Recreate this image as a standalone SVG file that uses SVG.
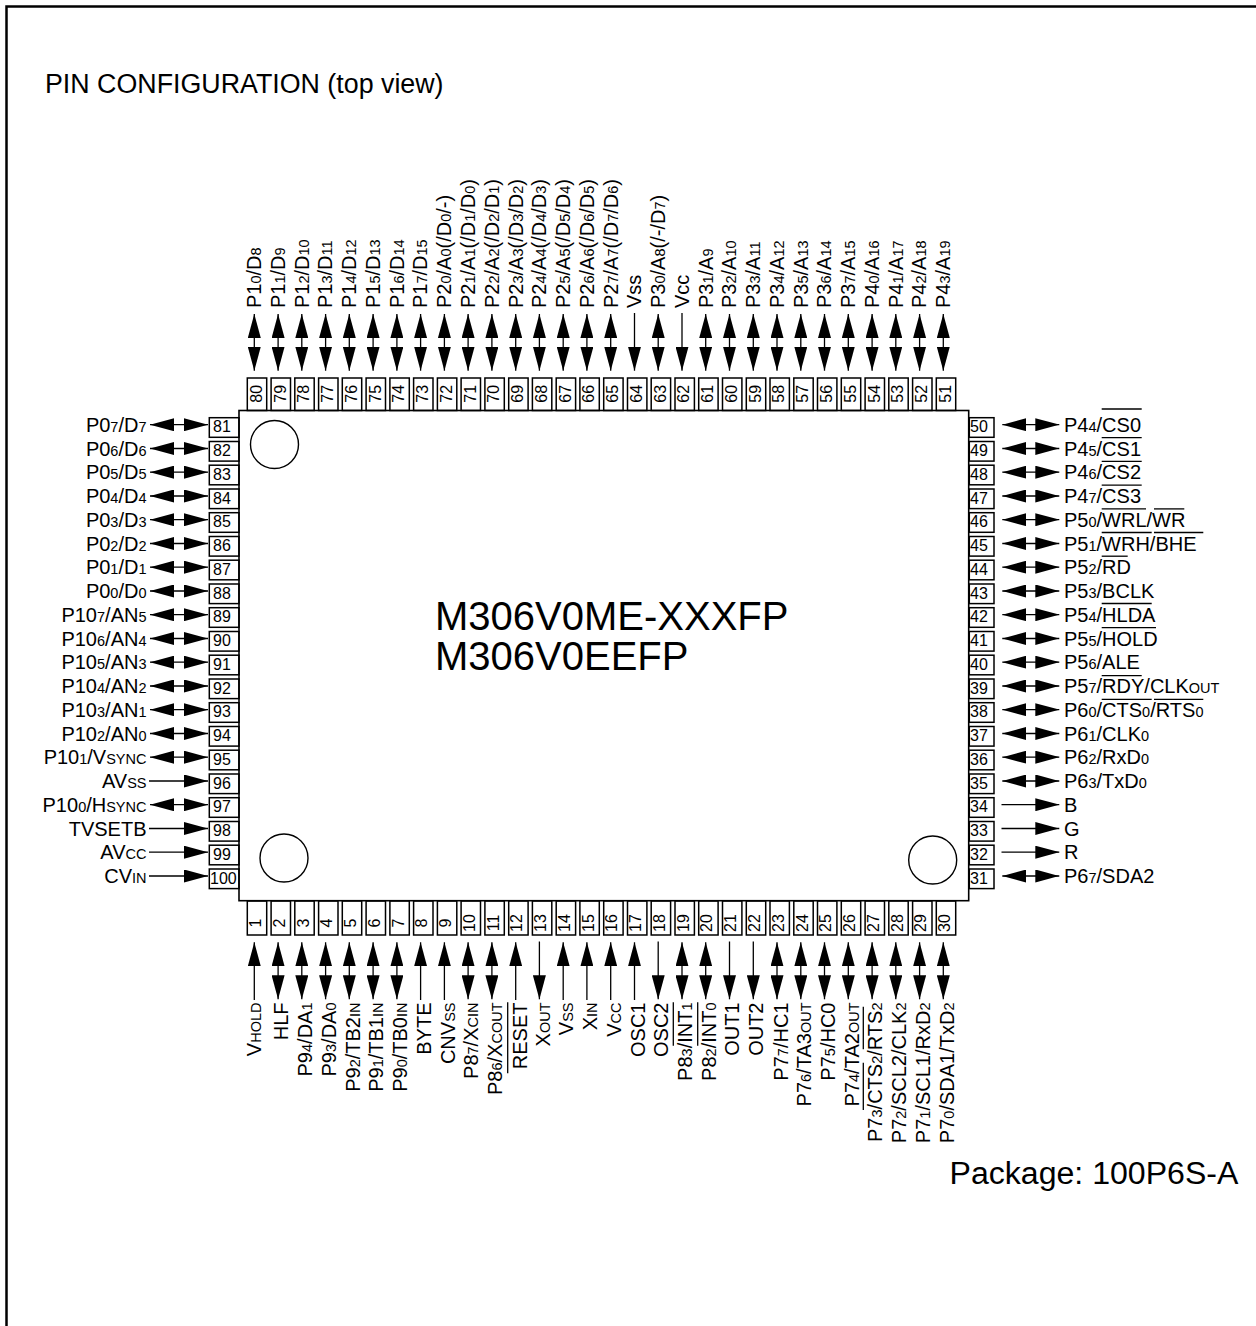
<svg xmlns="http://www.w3.org/2000/svg" width="1256" height="1326" viewBox="0 0 1256 1326">
<style>
text{font-family:"Liberation Sans",Arial,sans-serif;fill:#000}
.l{font-size:20px}
.s{font-size:14.5px}
.n{font-size:16px}
.ne{text-anchor:end}
.m{text-anchor:middle}
.box{fill:none;stroke:#000;stroke-width:1.5}
.ov{stroke:#000;stroke-width:1.3}
.c{stroke:#000;stroke-width:1.3;fill:none}
.bi{marker-start:url(#h);marker-end:url(#h)}
.one{marker-end:url(#h)}
</style>
<defs>
<marker id="h" markerUnits="userSpaceOnUse" markerWidth="24" markerHeight="13" refX="24" refY="6.5" orient="auto-start-reverse"><path d="M0 0L24 6.5L0 13Z" fill="#000"/></marker>
</defs>
<rect width="1256" height="1326" fill="#fff"/>
<path id="frame" d="M6.5 1326V6.5H1256" fill="none" stroke="#000" stroke-width="2.5"/>
<text id="title" x="45" y="93" font-size="26.8">PIN CONFIGURATION (top view)</text>
<text id="package" x="949.5" y="1184" font-size="32.1">Package: 100P6S-A</text>
<g id="chip">
<rect x="239" y="410.5" width="729.7" height="490.2" fill="#fff" stroke="#000" stroke-width="1.6"/>
<circle cx="274.5" cy="444.5" r="24" fill="none" stroke="#000" stroke-width="1.4"/>
<circle cx="284" cy="858" r="24" fill="none" stroke="#000" stroke-width="1.4"/>
<circle cx="932.7" cy="860" r="24" fill="none" stroke="#000" stroke-width="1.4"/>
<text x="435" y="630" font-size="40">M306V0ME-XXXFP</text>
<text x="435" y="670" font-size="40">M306V0EEFP</text>
</g>
<g id="connectors" class="c">
<line class="bi" x1="254.3" y1="314" x2="254.3" y2="370.7"/>
<line class="bi" x1="278.1" y1="314" x2="278.1" y2="370.7"/>
<line class="bi" x1="301.8" y1="314" x2="301.8" y2="370.7"/>
<line class="bi" x1="325.6" y1="314" x2="325.6" y2="370.7"/>
<line class="bi" x1="349.3" y1="314" x2="349.3" y2="370.7"/>
<line class="bi" x1="373.1" y1="314" x2="373.1" y2="370.7"/>
<line class="bi" x1="396.9" y1="314" x2="396.9" y2="370.7"/>
<line class="bi" x1="420.6" y1="314" x2="420.6" y2="370.7"/>
<line class="bi" x1="444.4" y1="314" x2="444.4" y2="370.7"/>
<line class="bi" x1="468.1" y1="314" x2="468.1" y2="370.7"/>
<line class="bi" x1="491.9" y1="314" x2="491.9" y2="370.7"/>
<line class="bi" x1="515.7" y1="314" x2="515.7" y2="370.7"/>
<line class="bi" x1="539.4" y1="314" x2="539.4" y2="370.7"/>
<line class="bi" x1="563.2" y1="314" x2="563.2" y2="370.7"/>
<line class="bi" x1="586.9" y1="314" x2="586.9" y2="370.7"/>
<line class="bi" x1="610.7" y1="314" x2="610.7" y2="370.7"/>
<line class="one" x1="634.5" y1="313" x2="634.5" y2="370.7"/>
<line class="bi" x1="658.2" y1="314" x2="658.2" y2="370.7"/>
<line class="one" x1="682" y1="313" x2="682" y2="370.7"/>
<line class="bi" x1="705.7" y1="314" x2="705.7" y2="370.7"/>
<line class="bi" x1="729.5" y1="314" x2="729.5" y2="370.7"/>
<line class="bi" x1="753.3" y1="314" x2="753.3" y2="370.7"/>
<line class="bi" x1="777" y1="314" x2="777" y2="370.7"/>
<line class="bi" x1="800.8" y1="314" x2="800.8" y2="370.7"/>
<line class="bi" x1="824.5" y1="314" x2="824.5" y2="370.7"/>
<line class="bi" x1="848.3" y1="314" x2="848.3" y2="370.7"/>
<line class="bi" x1="872.1" y1="314" x2="872.1" y2="370.7"/>
<line class="bi" x1="895.8" y1="314" x2="895.8" y2="370.7"/>
<line class="bi" x1="919.6" y1="314" x2="919.6" y2="370.7"/>
<line class="bi" x1="943.3" y1="314" x2="943.3" y2="370.7"/>
<line class="one" x1="254.3" y1="1000" x2="254.3" y2="942.3"/>
<line class="bi" x1="278.1" y1="942.3" x2="278.1" y2="999.3"/>
<line class="bi" x1="301.8" y1="942.3" x2="301.8" y2="999.3"/>
<line class="bi" x1="325.6" y1="942.3" x2="325.6" y2="999.3"/>
<line class="bi" x1="349.3" y1="942.3" x2="349.3" y2="999.3"/>
<line class="bi" x1="373.1" y1="942.3" x2="373.1" y2="999.3"/>
<line class="bi" x1="396.9" y1="942.3" x2="396.9" y2="999.3"/>
<line class="one" x1="420.6" y1="1000" x2="420.6" y2="942.3"/>
<line class="one" x1="444.4" y1="1000" x2="444.4" y2="942.3"/>
<line class="bi" x1="468.1" y1="942.3" x2="468.1" y2="999.3"/>
<line class="bi" x1="491.9" y1="942.3" x2="491.9" y2="999.3"/>
<line class="one" x1="515.7" y1="1000" x2="515.7" y2="942.3"/>
<line class="one" x1="539.4" y1="941.5" x2="539.4" y2="999.3"/>
<line class="one" x1="563.2" y1="1000" x2="563.2" y2="942.3"/>
<line class="one" x1="586.9" y1="1000" x2="586.9" y2="942.3"/>
<line class="one" x1="610.7" y1="1000" x2="610.7" y2="942.3"/>
<line class="one" x1="634.5" y1="1000" x2="634.5" y2="942.3"/>
<line class="one" x1="658.2" y1="941.5" x2="658.2" y2="999.3"/>
<line class="bi" x1="682" y1="942.3" x2="682" y2="999.3"/>
<line class="bi" x1="705.7" y1="942.3" x2="705.7" y2="999.3"/>
<line class="one" x1="729.5" y1="941.5" x2="729.5" y2="999.3"/>
<line class="one" x1="753.3" y1="941.5" x2="753.3" y2="999.3"/>
<line class="bi" x1="777" y1="942.3" x2="777" y2="999.3"/>
<line class="bi" x1="800.8" y1="942.3" x2="800.8" y2="999.3"/>
<line class="bi" x1="824.5" y1="942.3" x2="824.5" y2="999.3"/>
<line class="bi" x1="848.3" y1="942.3" x2="848.3" y2="999.3"/>
<line class="bi" x1="872.1" y1="942.3" x2="872.1" y2="999.3"/>
<line class="bi" x1="895.8" y1="942.3" x2="895.8" y2="999.3"/>
<line class="bi" x1="919.6" y1="942.3" x2="919.6" y2="999.3"/>
<line class="bi" x1="943.3" y1="942.3" x2="943.3" y2="999.3"/>
<line class="bi" x1="150" y1="424.7" x2="208" y2="424.7"/>
<line class="bi" x1="150" y1="448.5" x2="208" y2="448.5"/>
<line class="bi" x1="150" y1="472.2" x2="208" y2="472.2"/>
<line class="bi" x1="150" y1="496" x2="208" y2="496"/>
<line class="bi" x1="150" y1="519.7" x2="208" y2="519.7"/>
<line class="bi" x1="150" y1="543.5" x2="208" y2="543.5"/>
<line class="bi" x1="150" y1="567.2" x2="208" y2="567.2"/>
<line class="bi" x1="150" y1="591" x2="208" y2="591"/>
<line class="bi" x1="150" y1="614.7" x2="208" y2="614.7"/>
<line class="bi" x1="150" y1="638.5" x2="208" y2="638.5"/>
<line class="bi" x1="150" y1="662.2" x2="208" y2="662.2"/>
<line class="bi" x1="150" y1="686" x2="208" y2="686"/>
<line class="bi" x1="150" y1="709.7" x2="208" y2="709.7"/>
<line class="bi" x1="150" y1="733.5" x2="208" y2="733.5"/>
<line class="bi" x1="150" y1="757.2" x2="208" y2="757.2"/>
<line class="one" x1="149" y1="781" x2="208" y2="781"/>
<line class="bi" x1="150" y1="804.7" x2="208" y2="804.7"/>
<line class="one" x1="149" y1="828.5" x2="208" y2="828.5"/>
<line class="one" x1="149" y1="852.2" x2="208" y2="852.2"/>
<line class="one" x1="149" y1="876" x2="208" y2="876"/>
<line class="bi" x1="1002.3" y1="424.7" x2="1059.3" y2="424.7"/>
<line class="bi" x1="1002.3" y1="448.5" x2="1059.3" y2="448.5"/>
<line class="bi" x1="1002.3" y1="472.2" x2="1059.3" y2="472.2"/>
<line class="bi" x1="1002.3" y1="496" x2="1059.3" y2="496"/>
<line class="bi" x1="1002.3" y1="519.7" x2="1059.3" y2="519.7"/>
<line class="bi" x1="1002.3" y1="543.5" x2="1059.3" y2="543.5"/>
<line class="bi" x1="1002.3" y1="567.2" x2="1059.3" y2="567.2"/>
<line class="bi" x1="1002.3" y1="591" x2="1059.3" y2="591"/>
<line class="bi" x1="1002.3" y1="614.7" x2="1059.3" y2="614.7"/>
<line class="bi" x1="1002.3" y1="638.5" x2="1059.3" y2="638.5"/>
<line class="bi" x1="1002.3" y1="662.2" x2="1059.3" y2="662.2"/>
<line class="bi" x1="1002.3" y1="686" x2="1059.3" y2="686"/>
<line class="bi" x1="1002.3" y1="709.7" x2="1059.3" y2="709.7"/>
<line class="bi" x1="1002.3" y1="733.5" x2="1059.3" y2="733.5"/>
<line class="bi" x1="1002.3" y1="757.2" x2="1059.3" y2="757.2"/>
<line class="bi" x1="1002.3" y1="781" x2="1059.3" y2="781"/>
<line class="one" x1="1001.5" y1="804.7" x2="1059.3" y2="804.7"/>
<line class="one" x1="1001.5" y1="828.5" x2="1059.3" y2="828.5"/>
<line class="one" x1="1001.5" y1="852.2" x2="1059.3" y2="852.2"/>
<line class="bi" x1="1002.3" y1="876" x2="1059.3" y2="876"/>
</g>
<g id="pin80" transform="translate(254.3 0)"><rect class="box" x="-7" y="378" width="19.4" height="32.5"/><text class="n" transform="translate(7.4 402.7) rotate(-90)">80</text><text class="l" transform="translate(6.8 308) rotate(-90)">P1<tspan class="s">0</tspan>/D<tspan class="s">8</tspan></text></g>
<g id="pin79" transform="translate(278.1 0)"><rect class="box" x="-7" y="378" width="19.4" height="32.5"/><text class="n" transform="translate(7.4 402.7) rotate(-90)">79</text><text class="l" transform="translate(6.8 308) rotate(-90)">P1<tspan class="s">1</tspan>/D<tspan class="s">9</tspan></text></g>
<g id="pin78" transform="translate(301.8 0)"><rect class="box" x="-7" y="378" width="19.4" height="32.5"/><text class="n" transform="translate(7.4 402.7) rotate(-90)">78</text><text class="l" transform="translate(6.8 308) rotate(-90)">P1<tspan class="s">2</tspan>/D<tspan class="s">10</tspan></text></g>
<g id="pin77" transform="translate(325.6 0)"><rect class="box" x="-7" y="378" width="19.4" height="32.5"/><text class="n" transform="translate(7.4 402.7) rotate(-90)">77</text><text class="l" transform="translate(6.8 308) rotate(-90)">P1<tspan class="s">3</tspan>/D<tspan class="s">11</tspan></text></g>
<g id="pin76" transform="translate(349.3 0)"><rect class="box" x="-7" y="378" width="19.4" height="32.5"/><text class="n" transform="translate(7.4 402.7) rotate(-90)">76</text><text class="l" transform="translate(6.8 308) rotate(-90)">P1<tspan class="s">4</tspan>/D<tspan class="s">12</tspan></text></g>
<g id="pin75" transform="translate(373.1 0)"><rect class="box" x="-7" y="378" width="19.4" height="32.5"/><text class="n" transform="translate(7.4 402.7) rotate(-90)">75</text><text class="l" transform="translate(6.8 308) rotate(-90)">P1<tspan class="s">5</tspan>/D<tspan class="s">13</tspan></text></g>
<g id="pin74" transform="translate(396.9 0)"><rect class="box" x="-7" y="378" width="19.4" height="32.5"/><text class="n" transform="translate(7.4 402.7) rotate(-90)">74</text><text class="l" transform="translate(6.8 308) rotate(-90)">P1<tspan class="s">6</tspan>/D<tspan class="s">14</tspan></text></g>
<g id="pin73" transform="translate(420.6 0)"><rect class="box" x="-7" y="378" width="19.4" height="32.5"/><text class="n" transform="translate(7.4 402.7) rotate(-90)">73</text><text class="l" transform="translate(6.8 308) rotate(-90)">P1<tspan class="s">7</tspan>/D<tspan class="s">15</tspan></text></g>
<g id="pin72" transform="translate(444.4 0)"><rect class="box" x="-7" y="378" width="19.4" height="32.5"/><text class="n" transform="translate(7.4 402.7) rotate(-90)">72</text><text class="l" transform="translate(6.8 308) rotate(-90)">P2<tspan class="s">0</tspan>/A<tspan class="s">0</tspan>(/D<tspan class="s">0</tspan>/-)</text></g>
<g id="pin71" transform="translate(468.1 0)"><rect class="box" x="-7" y="378" width="19.4" height="32.5"/><text class="n" transform="translate(7.4 402.7) rotate(-90)">71</text><text class="l" transform="translate(6.8 308) rotate(-90)">P2<tspan class="s">1</tspan>/A<tspan class="s">1</tspan>(/D<tspan class="s">1</tspan>/D<tspan class="s">0</tspan>)</text></g>
<g id="pin70" transform="translate(491.9 0)"><rect class="box" x="-7" y="378" width="19.4" height="32.5"/><text class="n" transform="translate(7.4 402.7) rotate(-90)">70</text><text class="l" transform="translate(6.8 308) rotate(-90)">P2<tspan class="s">2</tspan>/A<tspan class="s">2</tspan>(/D<tspan class="s">2</tspan>/D<tspan class="s">1</tspan>)</text></g>
<g id="pin69" transform="translate(515.7 0)"><rect class="box" x="-7" y="378" width="19.4" height="32.5"/><text class="n" transform="translate(7.4 402.7) rotate(-90)">69</text><text class="l" transform="translate(6.8 308) rotate(-90)">P2<tspan class="s">3</tspan>/A<tspan class="s">3</tspan>(/D<tspan class="s">3</tspan>/D<tspan class="s">2</tspan>)</text></g>
<g id="pin68" transform="translate(539.4 0)"><rect class="box" x="-7" y="378" width="19.4" height="32.5"/><text class="n" transform="translate(7.4 402.7) rotate(-90)">68</text><text class="l" transform="translate(6.8 308) rotate(-90)">P2<tspan class="s">4</tspan>/A<tspan class="s">4</tspan>(/D<tspan class="s">4</tspan>/D<tspan class="s">3</tspan>)</text></g>
<g id="pin67" transform="translate(563.2 0)"><rect class="box" x="-7" y="378" width="19.4" height="32.5"/><text class="n" transform="translate(7.4 402.7) rotate(-90)">67</text><text class="l" transform="translate(6.8 308) rotate(-90)">P2<tspan class="s">5</tspan>/A<tspan class="s">5</tspan>(/D<tspan class="s">5</tspan>/D<tspan class="s">4</tspan>)</text></g>
<g id="pin66" transform="translate(586.9 0)"><rect class="box" x="-7" y="378" width="19.4" height="32.5"/><text class="n" transform="translate(7.4 402.7) rotate(-90)">66</text><text class="l" transform="translate(6.8 308) rotate(-90)">P2<tspan class="s">6</tspan>/A<tspan class="s">6</tspan>(/D<tspan class="s">6</tspan>/D<tspan class="s">5</tspan>)</text></g>
<g id="pin65" transform="translate(610.7 0)"><rect class="box" x="-7" y="378" width="19.4" height="32.5"/><text class="n" transform="translate(7.4 402.7) rotate(-90)">65</text><text class="l" transform="translate(6.8 308) rotate(-90)">P2<tspan class="s">7</tspan>/A<tspan class="s">7</tspan>(/D<tspan class="s">7</tspan>/D<tspan class="s">6</tspan>)</text></g>
<g id="pin64" transform="translate(634.5 0)"><rect class="box" x="-7" y="378" width="19.4" height="32.5"/><text class="n" transform="translate(7.4 402.7) rotate(-90)">64</text><text class="l" transform="translate(6.8 308) rotate(-90)">Vss</text></g>
<g id="pin63" transform="translate(658.2 0)"><rect class="box" x="-7" y="378" width="19.4" height="32.5"/><text class="n" transform="translate(7.4 402.7) rotate(-90)">63</text><text class="l" transform="translate(6.8 308) rotate(-90)">P3<tspan class="s">0</tspan>/A<tspan class="s">8</tspan>(/-/D<tspan class="s">7</tspan>)</text></g>
<g id="pin62" transform="translate(682 0)"><rect class="box" x="-7" y="378" width="19.4" height="32.5"/><text class="n" transform="translate(7.4 402.7) rotate(-90)">62</text><text class="l" transform="translate(6.8 308) rotate(-90)">Vcc</text></g>
<g id="pin61" transform="translate(705.7 0)"><rect class="box" x="-7" y="378" width="19.4" height="32.5"/><text class="n" transform="translate(7.4 402.7) rotate(-90)">61</text><text class="l" transform="translate(6.8 308) rotate(-90)">P3<tspan class="s">1</tspan>/A<tspan class="s">9</tspan></text></g>
<g id="pin60" transform="translate(729.5 0)"><rect class="box" x="-7" y="378" width="19.4" height="32.5"/><text class="n" transform="translate(7.4 402.7) rotate(-90)">60</text><text class="l" transform="translate(6.8 308) rotate(-90)">P3<tspan class="s">2</tspan>/A<tspan class="s">10</tspan></text></g>
<g id="pin59" transform="translate(753.3 0)"><rect class="box" x="-7" y="378" width="19.4" height="32.5"/><text class="n" transform="translate(7.4 402.7) rotate(-90)">59</text><text class="l" transform="translate(6.8 308) rotate(-90)">P3<tspan class="s">3</tspan>/A<tspan class="s">11</tspan></text></g>
<g id="pin58" transform="translate(777 0)"><rect class="box" x="-7" y="378" width="19.4" height="32.5"/><text class="n" transform="translate(7.4 402.7) rotate(-90)">58</text><text class="l" transform="translate(6.8 308) rotate(-90)">P3<tspan class="s">4</tspan>/A<tspan class="s">12</tspan></text></g>
<g id="pin57" transform="translate(800.8 0)"><rect class="box" x="-7" y="378" width="19.4" height="32.5"/><text class="n" transform="translate(7.4 402.7) rotate(-90)">57</text><text class="l" transform="translate(6.8 308) rotate(-90)">P3<tspan class="s">5</tspan>/A<tspan class="s">13</tspan></text></g>
<g id="pin56" transform="translate(824.5 0)"><rect class="box" x="-7" y="378" width="19.4" height="32.5"/><text class="n" transform="translate(7.4 402.7) rotate(-90)">56</text><text class="l" transform="translate(6.8 308) rotate(-90)">P3<tspan class="s">6</tspan>/A<tspan class="s">14</tspan></text></g>
<g id="pin55" transform="translate(848.3 0)"><rect class="box" x="-7" y="378" width="19.4" height="32.5"/><text class="n" transform="translate(7.4 402.7) rotate(-90)">55</text><text class="l" transform="translate(6.8 308) rotate(-90)">P3<tspan class="s">7</tspan>/A<tspan class="s">15</tspan></text></g>
<g id="pin54" transform="translate(872.1 0)"><rect class="box" x="-7" y="378" width="19.4" height="32.5"/><text class="n" transform="translate(7.4 402.7) rotate(-90)">54</text><text class="l" transform="translate(6.8 308) rotate(-90)">P4<tspan class="s">0</tspan>/A<tspan class="s">16</tspan></text></g>
<g id="pin53" transform="translate(895.8 0)"><rect class="box" x="-7" y="378" width="19.4" height="32.5"/><text class="n" transform="translate(7.4 402.7) rotate(-90)">53</text><text class="l" transform="translate(6.8 308) rotate(-90)">P4<tspan class="s">1</tspan>/A<tspan class="s">17</tspan></text></g>
<g id="pin52" transform="translate(919.6 0)"><rect class="box" x="-7" y="378" width="19.4" height="32.5"/><text class="n" transform="translate(7.4 402.7) rotate(-90)">52</text><text class="l" transform="translate(6.8 308) rotate(-90)">P4<tspan class="s">2</tspan>/A<tspan class="s">18</tspan></text></g>
<g id="pin51" transform="translate(943.3 0)"><rect class="box" x="-7" y="378" width="19.4" height="32.5"/><text class="n" transform="translate(7.4 402.7) rotate(-90)">51</text><text class="l" transform="translate(6.8 308) rotate(-90)">P4<tspan class="s">3</tspan>/A<tspan class="s">19</tspan></text></g>
<g id="pin1" transform="translate(254.3 0)"><rect class="box" x="-7" y="901" width="19.4" height="34"/><text class="n m" transform="translate(6.7 923) rotate(-90)">1</text><text class="l ne" transform="translate(6.7 1002.5) rotate(-90)">V<tspan class="s">HOLD</tspan></text></g>
<g id="pin2" transform="translate(278.1 0)"><rect class="box" x="-7" y="901" width="19.4" height="34"/><text class="n m" transform="translate(6.7 923) rotate(-90)">2</text><text class="l ne" transform="translate(10.2 1002.5) rotate(-90)">HLF</text></g>
<g id="pin3" transform="translate(301.8 0)"><rect class="box" x="-7" y="901" width="19.4" height="34"/><text class="n m" transform="translate(6.7 923) rotate(-90)">3</text><text class="l ne" transform="translate(10.2 1002.5) rotate(-90)">P9<tspan class="s">4</tspan>/DA<tspan class="s">1</tspan></text></g>
<g id="pin4" transform="translate(325.6 0)"><rect class="box" x="-7" y="901" width="19.4" height="34"/><text class="n m" transform="translate(6.7 923) rotate(-90)">4</text><text class="l ne" transform="translate(10.2 1002.5) rotate(-90)">P9<tspan class="s">3</tspan>/DA<tspan class="s">0</tspan></text></g>
<g id="pin5" transform="translate(349.3 0)"><rect class="box" x="-7" y="901" width="19.4" height="34"/><text class="n m" transform="translate(6.7 923) rotate(-90)">5</text><text class="l ne" transform="translate(10.2 1002.5) rotate(-90)">P9<tspan class="s">2</tspan>/TB2<tspan class="s">IN</tspan></text></g>
<g id="pin6" transform="translate(373.1 0)"><rect class="box" x="-7" y="901" width="19.4" height="34"/><text class="n m" transform="translate(6.7 923) rotate(-90)">6</text><text class="l ne" transform="translate(10.2 1002.5) rotate(-90)">P9<tspan class="s">1</tspan>/TB1<tspan class="s">IN</tspan></text></g>
<g id="pin7" transform="translate(396.9 0)"><rect class="box" x="-7" y="901" width="19.4" height="34"/><text class="n m" transform="translate(6.7 923) rotate(-90)">7</text><text class="l ne" transform="translate(10.2 1002.5) rotate(-90)">P9<tspan class="s">0</tspan>/TB0<tspan class="s">IN</tspan></text></g>
<g id="pin8" transform="translate(420.6 0)"><rect class="box" x="-7" y="901" width="19.4" height="34"/><text class="n m" transform="translate(6.7 923) rotate(-90)">8</text><text class="l ne" transform="translate(10.2 1002.5) rotate(-90)">BYTE</text></g>
<g id="pin9" transform="translate(444.4 0)"><rect class="box" x="-7" y="901" width="19.4" height="34"/><text class="n m" transform="translate(6.7 923) rotate(-90)">9</text><text class="l ne" transform="translate(10.2 1002.5) rotate(-90)">CNV<tspan class="s">SS</tspan></text></g>
<g id="pin10" transform="translate(468.1 0)"><rect class="box" x="-7" y="901" width="19.4" height="34"/><text class="n m" transform="translate(6.7 923) rotate(-90)">10</text><text class="l ne" transform="translate(10.2 1002.5) rotate(-90)">P8<tspan class="s">7</tspan>/X<tspan class="s">CIN</tspan></text></g>
<g id="pin11" transform="translate(491.9 0)"><rect class="box" x="-7" y="901" width="19.4" height="34"/><text class="n m" transform="translate(6.7 923) rotate(-90)">11</text><text class="l ne" transform="translate(10.2 1002.5) rotate(-90)">P8<tspan class="s">6</tspan>/X<tspan class="s">COUT</tspan></text></g>
<g id="pin12" transform="translate(515.7 0)"><rect class="box" x="-7" y="901" width="19.4" height="34"/><text class="n m" transform="translate(6.7 923) rotate(-90)">12</text><text class="l ne" transform="translate(11 1002.5) rotate(-90)">RESET</text><line class="ov" x1="-8" y1="1002.3" x2="-8" y2="1073.3"/></g>
<g id="pin13" transform="translate(539.4 0)"><rect class="box" x="-7" y="901" width="19.4" height="34"/><text class="n m" transform="translate(6.7 923) rotate(-90)">13</text><text class="l ne" transform="translate(10.2 1002.5) rotate(-90)">X<tspan class="s">OUT</tspan></text></g>
<g id="pin14" transform="translate(563.2 0)"><rect class="box" x="-7" y="901" width="19.4" height="34"/><text class="n m" transform="translate(6.7 923) rotate(-90)">14</text><text class="l ne" transform="translate(10.2 1002.5) rotate(-90)">V<tspan class="s">SS</tspan></text></g>
<g id="pin15" transform="translate(586.9 0)"><rect class="box" x="-7" y="901" width="19.4" height="34"/><text class="n m" transform="translate(6.7 923) rotate(-90)">15</text><text class="l ne" transform="translate(10.2 1002.5) rotate(-90)">X<tspan class="s">IN</tspan></text></g>
<g id="pin16" transform="translate(610.7 0)"><rect class="box" x="-7" y="901" width="19.4" height="34"/><text class="n m" transform="translate(6.7 923) rotate(-90)">16</text><text class="l ne" transform="translate(10.2 1002.5) rotate(-90)">V<tspan class="s">CC</tspan></text></g>
<g id="pin17" transform="translate(634.5 0)"><rect class="box" x="-7" y="901" width="19.4" height="34"/><text class="n m" transform="translate(6.7 923) rotate(-90)">17</text><text class="l ne" transform="translate(10.2 1002.5) rotate(-90)">OSC1</text></g>
<g id="pin18" transform="translate(658.2 0)"><rect class="box" x="-7" y="901" width="19.4" height="34"/><text class="n m" transform="translate(6.7 923) rotate(-90)">18</text><text class="l ne" transform="translate(9.5 1002.5) rotate(-90)">OSC2</text></g>
<g id="pin19" transform="translate(682 0)"><rect class="box" x="-7" y="901" width="19.4" height="34"/><text class="n m" transform="translate(6.7 923) rotate(-90)">19</text><text class="l ne" transform="translate(9.7 1002.5) rotate(-90)">P8<tspan class="s">3</tspan>/INT<tspan class="s">1</tspan></text><line class="ov" x1="-8.7" y1="1002.3" x2="-8.7" y2="1045.7"/></g>
<g id="pin20" transform="translate(705.7 0)"><rect class="box" x="-7" y="901" width="19.4" height="34"/><text class="n m" transform="translate(6.7 923) rotate(-90)">20</text><text class="l ne" transform="translate(10 1002.5) rotate(-90)">P8<tspan class="s">2</tspan>/INT<tspan class="s">0</tspan></text><line class="ov" x1="-8" y1="1002.3" x2="-8" y2="1045.7"/></g>
<g id="pin21" transform="translate(729.5 0)"><rect class="box" x="-7" y="901" width="19.4" height="34"/><text class="n m" transform="translate(6.7 923) rotate(-90)">21</text><text class="l ne" transform="translate(9.5 1002.5) rotate(-90)">OUT1</text></g>
<g id="pin22" transform="translate(753.3 0)"><rect class="box" x="-7" y="901" width="19.4" height="34"/><text class="n m" transform="translate(6.7 923) rotate(-90)">22</text><text class="l ne" transform="translate(9.5 1002.5) rotate(-90)">OUT2</text></g>
<g id="pin23" transform="translate(777 0)"><rect class="box" x="-7" y="901" width="19.4" height="34"/><text class="n m" transform="translate(6.7 923) rotate(-90)">23</text><text class="l ne" transform="translate(10.5 1002.5) rotate(-90)">P7<tspan class="s">7</tspan>/HC1</text></g>
<g id="pin24" transform="translate(800.8 0)"><rect class="box" x="-7" y="901" width="19.4" height="34"/><text class="n m" transform="translate(6.7 923) rotate(-90)">24</text><text class="l ne" transform="translate(10.2 1002.5) rotate(-90)">P7<tspan class="s">6</tspan>/TA3<tspan class="s">OUT</tspan></text></g>
<g id="pin25" transform="translate(824.5 0)"><rect class="box" x="-7" y="901" width="19.4" height="34"/><text class="n m" transform="translate(6.7 923) rotate(-90)">25</text><text class="l ne" transform="translate(10.5 1002.5) rotate(-90)">P7<tspan class="s">5</tspan>/HC0</text></g>
<g id="pin26" transform="translate(848.3 0)"><rect class="box" x="-7" y="901" width="19.4" height="34"/><text class="n m" transform="translate(6.7 923) rotate(-90)">26</text><text class="l ne" transform="translate(10.5 1002.5) rotate(-90)">P7<tspan class="s">4</tspan>/TA2<tspan class="s">OUT</tspan></text></g>
<g id="pin27" transform="translate(872.1 0)"><rect class="box" x="-7" y="901" width="19.4" height="34"/><text class="n m" transform="translate(6.7 923) rotate(-90)">27</text><text class="l ne" transform="translate(10.2 1002.5) rotate(-90)">P7<tspan class="s">3</tspan>/CTS<tspan class="s">2</tspan>/RTS<tspan class="s">2</tspan></text><line class="ov" x1="-8.8" y1="1006.7" x2="-8.8" y2="1049.3"/><line class="ov" x1="-8.8" y1="1062.7" x2="-8.8" y2="1110"/></g>
<g id="pin28" transform="translate(895.8 0)"><rect class="box" x="-7" y="901" width="19.4" height="34"/><text class="n m" transform="translate(6.7 923) rotate(-90)">28</text><text class="l ne" transform="translate(10 1002.5) rotate(-90)">P7<tspan class="s">2</tspan>/SCL2/CLK<tspan class="s">2</tspan></text></g>
<g id="pin29" transform="translate(919.6 0)"><rect class="box" x="-7" y="901" width="19.4" height="34"/><text class="n m" transform="translate(6.7 923) rotate(-90)">29</text><text class="l ne" transform="translate(10.4 1002.5) rotate(-90)">P7<tspan class="s">1</tspan>/SCL1/RxD<tspan class="s">2</tspan></text></g>
<g id="pin30" transform="translate(943.3 0)"><rect class="box" x="-7" y="901" width="19.4" height="34"/><text class="n m" transform="translate(6.7 923) rotate(-90)">30</text><text class="l ne" transform="translate(10.5 1002.5) rotate(-90)">P7<tspan class="s">0</tspan>/SDA1/TxD<tspan class="s">2</tspan></text></g>
<g id="pin81" transform="translate(0 424.7)"><rect class="box" x="209.3" y="-7" width="29.7" height="19.6"/><text class="n" x="213" y="7.6">81</text><text class="l ne" x="146.5" y="7">P0<tspan class="s">7</tspan>/D<tspan class="s">7</tspan></text></g>
<g id="pin82" transform="translate(0 448.5)"><rect class="box" x="209.3" y="-7" width="29.7" height="19.6"/><text class="n" x="213" y="7.6">82</text><text class="l ne" x="146.5" y="7">P0<tspan class="s">6</tspan>/D<tspan class="s">6</tspan></text></g>
<g id="pin83" transform="translate(0 472.2)"><rect class="box" x="209.3" y="-7" width="29.7" height="19.6"/><text class="n" x="213" y="7.6">83</text><text class="l ne" x="146.5" y="7">P0<tspan class="s">5</tspan>/D<tspan class="s">5</tspan></text></g>
<g id="pin84" transform="translate(0 496)"><rect class="box" x="209.3" y="-7" width="29.7" height="19.6"/><text class="n" x="213" y="7.6">84</text><text class="l ne" x="146.5" y="7">P0<tspan class="s">4</tspan>/D<tspan class="s">4</tspan></text></g>
<g id="pin85" transform="translate(0 519.7)"><rect class="box" x="209.3" y="-7" width="29.7" height="19.6"/><text class="n" x="213" y="7.6">85</text><text class="l ne" x="146.5" y="7">P0<tspan class="s">3</tspan>/D<tspan class="s">3</tspan></text></g>
<g id="pin86" transform="translate(0 543.5)"><rect class="box" x="209.3" y="-7" width="29.7" height="19.6"/><text class="n" x="213" y="7.6">86</text><text class="l ne" x="146.5" y="7">P0<tspan class="s">2</tspan>/D<tspan class="s">2</tspan></text></g>
<g id="pin87" transform="translate(0 567.2)"><rect class="box" x="209.3" y="-7" width="29.7" height="19.6"/><text class="n" x="213" y="7.6">87</text><text class="l ne" x="146.5" y="7">P0<tspan class="s">1</tspan>/D<tspan class="s">1</tspan></text></g>
<g id="pin88" transform="translate(0 591)"><rect class="box" x="209.3" y="-7" width="29.7" height="19.6"/><text class="n" x="213" y="7.6">88</text><text class="l ne" x="146.5" y="7">P0<tspan class="s">0</tspan>/D<tspan class="s">0</tspan></text></g>
<g id="pin89" transform="translate(0 614.7)"><rect class="box" x="209.3" y="-7" width="29.7" height="19.6"/><text class="n" x="213" y="7.6">89</text><text class="l ne" x="146.5" y="7">P10<tspan class="s">7</tspan>/AN<tspan class="s">5</tspan></text></g>
<g id="pin90" transform="translate(0 638.5)"><rect class="box" x="209.3" y="-7" width="29.7" height="19.6"/><text class="n" x="213" y="7.6">90</text><text class="l ne" x="146.5" y="7">P10<tspan class="s">6</tspan>/AN<tspan class="s">4</tspan></text></g>
<g id="pin91" transform="translate(0 662.2)"><rect class="box" x="209.3" y="-7" width="29.7" height="19.6"/><text class="n" x="213" y="7.6">91</text><text class="l ne" x="146.5" y="7">P10<tspan class="s">5</tspan>/AN<tspan class="s">3</tspan></text></g>
<g id="pin92" transform="translate(0 686)"><rect class="box" x="209.3" y="-7" width="29.7" height="19.6"/><text class="n" x="213" y="7.6">92</text><text class="l ne" x="146.5" y="7">P10<tspan class="s">4</tspan>/AN<tspan class="s">2</tspan></text></g>
<g id="pin93" transform="translate(0 709.7)"><rect class="box" x="209.3" y="-7" width="29.7" height="19.6"/><text class="n" x="213" y="7.6">93</text><text class="l ne" x="146.5" y="7">P10<tspan class="s">3</tspan>/AN<tspan class="s">1</tspan></text></g>
<g id="pin94" transform="translate(0 733.5)"><rect class="box" x="209.3" y="-7" width="29.7" height="19.6"/><text class="n" x="213" y="7.6">94</text><text class="l ne" x="146.5" y="7">P10<tspan class="s">2</tspan>/AN<tspan class="s">0</tspan></text></g>
<g id="pin95" transform="translate(0 757.2)"><rect class="box" x="209.3" y="-7" width="29.7" height="19.6"/><text class="n" x="213" y="7.6">95</text><text class="l ne" x="146.5" y="7">P10<tspan class="s">1</tspan>/V<tspan class="s">SYNC</tspan></text></g>
<g id="pin96" transform="translate(0 781)"><rect class="box" x="209.3" y="-7" width="29.7" height="19.6"/><text class="n" x="213" y="7.6">96</text><text class="l ne" x="146.5" y="7">AV<tspan class="s">SS</tspan></text></g>
<g id="pin97" transform="translate(0 804.7)"><rect class="box" x="209.3" y="-7" width="29.7" height="19.6"/><text class="n" x="213" y="7.6">97</text><text class="l ne" x="146.5" y="7">P10<tspan class="s">0</tspan>/H<tspan class="s">SYNC</tspan></text></g>
<g id="pin98" transform="translate(0 828.5)"><rect class="box" x="209.3" y="-7" width="29.7" height="19.6"/><text class="n" x="213" y="7.6">98</text><text class="l ne" x="146.5" y="7">TVSETB</text></g>
<g id="pin99" transform="translate(0 852.2)"><rect class="box" x="209.3" y="-7" width="29.7" height="19.6"/><text class="n" x="213" y="7.6">99</text><text class="l ne" x="146.5" y="7">AV<tspan class="s">CC</tspan></text></g>
<g id="pin100" transform="translate(0 876)"><rect class="box" x="209.3" y="-7" width="29.7" height="19.6"/><text class="n" x="210" y="7.6">100</text><text class="l ne" x="146.5" y="7">CV<tspan class="s">IN</tspan></text></g>
<g id="pin50" transform="translate(0 424.7)"><rect class="box" x="969.3" y="-7" width="24.7" height="19.6"/><text class="n" x="970" y="7.6">50</text><text class="l" x="1064" y="7">P4<tspan class="s">4</tspan>/CS0</text><line class="ov" x1="1101.7" y1="-15.7" x2="1141.7" y2="-15.7"/></g>
<g id="pin49" transform="translate(0 448.5)"><rect class="box" x="969.3" y="-7" width="24.7" height="19.6"/><text class="n" x="970" y="7.6">49</text><text class="l" x="1064" y="7">P4<tspan class="s">5</tspan>/CS1</text><line class="ov" x1="1101.7" y1="-10.8" x2="1141.7" y2="-10.8"/></g>
<g id="pin48" transform="translate(0 472.2)"><rect class="box" x="969.3" y="-7" width="24.7" height="19.6"/><text class="n" x="970" y="7.6">48</text><text class="l" x="1064" y="7">P4<tspan class="s">6</tspan>/CS2</text><line class="ov" x1="1101.7" y1="-10.8" x2="1141.7" y2="-10.8"/></g>
<g id="pin47" transform="translate(0 496)"><rect class="box" x="969.3" y="-7" width="24.7" height="19.6"/><text class="n" x="970" y="7.6">47</text><text class="l" x="1064" y="7">P4<tspan class="s">7</tspan>/CS3</text><line class="ov" x1="1101.7" y1="-10.8" x2="1141.7" y2="-10.8"/></g>
<g id="pin46" transform="translate(0 519.7)"><rect class="box" x="969.3" y="-7" width="24.7" height="19.6"/><text class="n" x="970" y="7.6">46</text><text class="l" x="1064" y="7">P5<tspan class="s">0</tspan>/WRL/WR</text><line class="ov" x1="1101.7" y1="-10.8" x2="1146" y2="-10.8"/><line class="ov" x1="1154" y1="-10.8" x2="1184.3" y2="-10.8"/></g>
<g id="pin45" transform="translate(0 543.5)"><rect class="box" x="969.3" y="-7" width="24.7" height="19.6"/><text class="n" x="970" y="7.6">45</text><text class="l" x="1064" y="7">P5<tspan class="s">1</tspan>/WRH/BHE</text><line class="ov" x1="1101.7" y1="-11" x2="1151.7" y2="-11"/><line class="ov" x1="1154" y1="-11" x2="1203.3" y2="-11"/></g>
<g id="pin44" transform="translate(0 567.2)"><rect class="box" x="969.3" y="-7" width="24.7" height="19.6"/><text class="n" x="970" y="7.6">44</text><text class="l" x="1064" y="7">P5<tspan class="s">2</tspan>/RD</text><line class="ov" x1="1101.7" y1="-11" x2="1127.7" y2="-11"/></g>
<g id="pin43" transform="translate(0 591)"><rect class="box" x="969.3" y="-7" width="24.7" height="19.6"/><text class="n" x="970" y="7.6">43</text><text class="l" x="1064" y="7">P5<tspan class="s">3</tspan>/BCLK</text></g>
<g id="pin42" transform="translate(0 614.7)"><rect class="box" x="969.3" y="-7" width="24.7" height="19.6"/><text class="n" x="970" y="7.6">42</text><text class="l" x="1064" y="7">P5<tspan class="s">4</tspan>/HLDA</text><line class="ov" x1="1101.7" y1="-11.2" x2="1151.7" y2="-11.2"/></g>
<g id="pin41" transform="translate(0 638.5)"><rect class="box" x="969.3" y="-7" width="24.7" height="19.6"/><text class="n" x="970" y="7.6">41</text><text class="l" x="1064" y="7">P5<tspan class="s">5</tspan>/HOLD</text><line class="ov" x1="1101.7" y1="-10.8" x2="1156" y2="-10.8"/></g>
<g id="pin40" transform="translate(0 662.2)"><rect class="box" x="969.3" y="-7" width="24.7" height="19.6"/><text class="n" x="970" y="7.6">40</text><text class="l" x="1064" y="7">P5<tspan class="s">6</tspan>/ALE</text></g>
<g id="pin39" transform="translate(0 686)"><rect class="box" x="969.3" y="-7" width="24.7" height="19.6"/><text class="n" x="970" y="7.6">39</text><text class="l" x="1064" y="7">P5<tspan class="s">7</tspan>/RDY/CLK<tspan class="s">OUT</tspan></text><line class="ov" x1="1101.7" y1="-10.4" x2="1141.7" y2="-10.4"/></g>
<g id="pin38" transform="translate(0 709.7)"><rect class="box" x="969.3" y="-7" width="24.7" height="19.6"/><text class="n" x="970" y="7.6">38</text><text class="l" x="1064" y="7">P6<tspan class="s">0</tspan>/CTS<tspan class="s">0</tspan>/RTS<tspan class="s">0</tspan></text><line class="ov" x1="1101.7" y1="-10.4" x2="1151.7" y2="-10.4"/><line class="ov" x1="1154" y1="-10.4" x2="1203.3" y2="-10.4"/></g>
<g id="pin37" transform="translate(0 733.5)"><rect class="box" x="969.3" y="-7" width="24.7" height="19.6"/><text class="n" x="970" y="7.6">37</text><text class="l" x="1064" y="7">P6<tspan class="s">1</tspan>/CLK<tspan class="s">0</tspan></text></g>
<g id="pin36" transform="translate(0 757.2)"><rect class="box" x="969.3" y="-7" width="24.7" height="19.6"/><text class="n" x="970" y="7.6">36</text><text class="l" x="1064" y="7">P6<tspan class="s">2</tspan>/RxD<tspan class="s">0</tspan></text></g>
<g id="pin35" transform="translate(0 781)"><rect class="box" x="969.3" y="-7" width="24.7" height="19.6"/><text class="n" x="970" y="7.6">35</text><text class="l" x="1064" y="7">P6<tspan class="s">3</tspan>/TxD<tspan class="s">0</tspan></text></g>
<g id="pin34" transform="translate(0 804.7)"><rect class="box" x="969.3" y="-7" width="24.7" height="19.6"/><text class="n" x="970" y="7.6">34</text><text class="l" x="1064" y="7">B</text></g>
<g id="pin33" transform="translate(0 828.5)"><rect class="box" x="969.3" y="-7" width="24.7" height="19.6"/><text class="n" x="970" y="7.6">33</text><text class="l" x="1064" y="7">G</text></g>
<g id="pin32" transform="translate(0 852.2)"><rect class="box" x="969.3" y="-7" width="24.7" height="19.6"/><text class="n" x="970" y="7.6">32</text><text class="l" x="1064" y="7">R</text></g>
<g id="pin31" transform="translate(0 876)"><rect class="box" x="969.3" y="-7" width="24.7" height="19.6"/><text class="n" x="970" y="7.6">31</text><text class="l" x="1064" y="7">P6<tspan class="s">7</tspan>/SDA2</text></g>
</svg>
